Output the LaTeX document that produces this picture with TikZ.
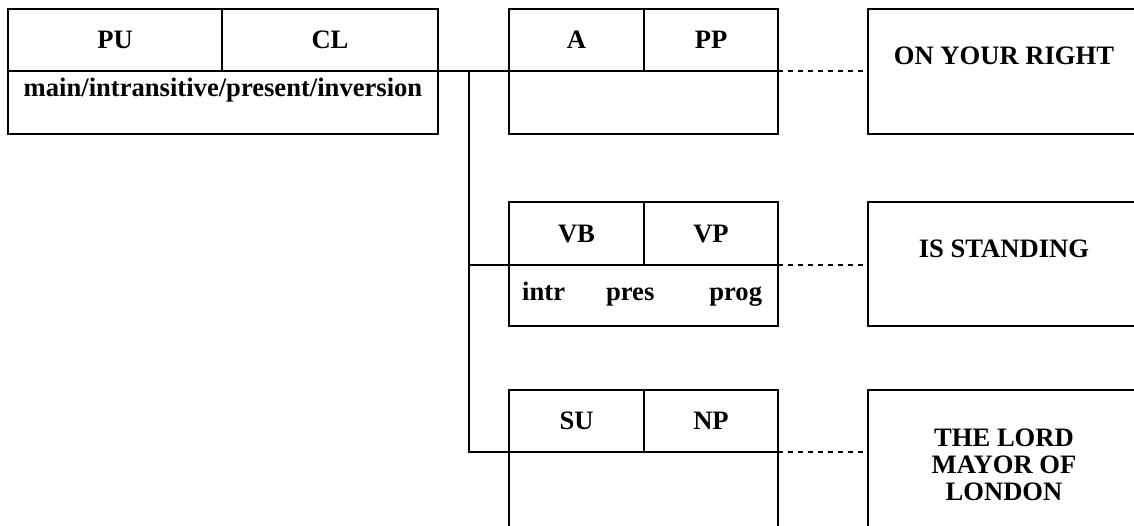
\documentclass[tikz,border=0pt]{standalone}
\usepackage{fontspec}
\setmainfont{Liberation Serif}
\usetikzlibrary{positioning}

\begin{document}
\begin{tikzpicture}[x=1pt, y=-1pt,
		every node/.style={font=\fontsize{26.6}{26.7}\selectfont\bfseries},
		cell/.style={draw, line width=2.6pt, inner sep=0pt, outer sep=0pt, anchor=north west, minimum height=62pt},
		word/.style={inner sep=0pt},
		link/.style={line width=2.6pt},
		gap/.style={line width=2.6pt, dash pattern=on 5pt off 5pt}]
		\useasboundingbox (0, 0) rectangle (1134, 526);
		\clip (0, 0) rectangle (1134, 526);
		% clause
		\node[cell, minimum width=214pt] (pu) at (8, 9) {PU};
		\node[cell, minimum width=216pt, right=0pt of pu] (cl) {CL};
		\node[cell, minimum width=430pt, minimum height=63pt] (clinfo) at (8, 71) {};
		\node[word, anchor=base] at ([yshift=-26pt]clinfo.north) {main/intransitive/present/inversion};
		% adverbial
		\node[cell, minimum width=135pt] (a) at (509, 9) {A};
		\node[cell, minimum width=134pt, right=0pt of a] (pp) {PP};
		\node[cell, minimum width=269pt, minimum height=63pt] (ainfo) at (509, 71) {};
		% verb
		\node[cell, minimum width=135pt, minimum height=63pt] (vb) at (509, 202) {VB};
		\node[cell, minimum width=134pt, minimum height=63pt, right=0pt of vb] (vp) {VP};
		\node[cell, minimum width=269pt, minimum height=61pt] (vbinfo) at (509, 265) {};
		\node[word, anchor=base west] at ([xshift=13pt, yshift=-36pt]vbinfo.north west) {intr\hspace{41pt}pres\hspace{55pt}prog};
		% subject
		\node[cell, minimum width=135pt] (su) at (509, 390) {SU};
		\node[cell, minimum width=134pt, right=0pt of su] (np) {NP};
		\node[cell, minimum width=269pt, minimum height=110pt] (suinfo) at (509, 452) {};
		% words
		\node[cell, minimum width=272pt, minimum height=125pt] (right) at (868, 9) {};
		\node[word, anchor=north] at ([yshift=-38pt]right.north) {ON YOUR RIGHT};
		\node[cell, minimum width=272pt, minimum height=124pt] (standing) at (868, 202) {};
		\node[word, anchor=north] at ([yshift=-38pt]standing.north) {IS STANDING};
		\node[cell, minimum width=272pt, minimum height=170pt] (mayor) at (868, 390) {};
		\node[word, anchor=north, align=center] at ([yshift=-39pt]mayor.north) {THE LORD\\MAYOR OF\\LONDON};
		% tree lines
		\coordinate (fork) at ([xshift=31pt]clinfo.north east);
		\draw[link] (clinfo.north east) -- (ainfo.north west);
		\draw[link] (fork) |- (vbinfo.north west);
		\draw[link] (fork) |- (suinfo.north west);
		\draw[gap] (pp.south east) -- ([xshift=-3pt]pp.south east -| right.west);
		\draw[gap] (vp.south east) -- ([xshift=-3pt]vp.south east -| standing.west);
		\draw[gap] (np.south east) -- ([xshift=-3pt]np.south east -| mayor.west);
	\end{tikzpicture}
\end{document}
